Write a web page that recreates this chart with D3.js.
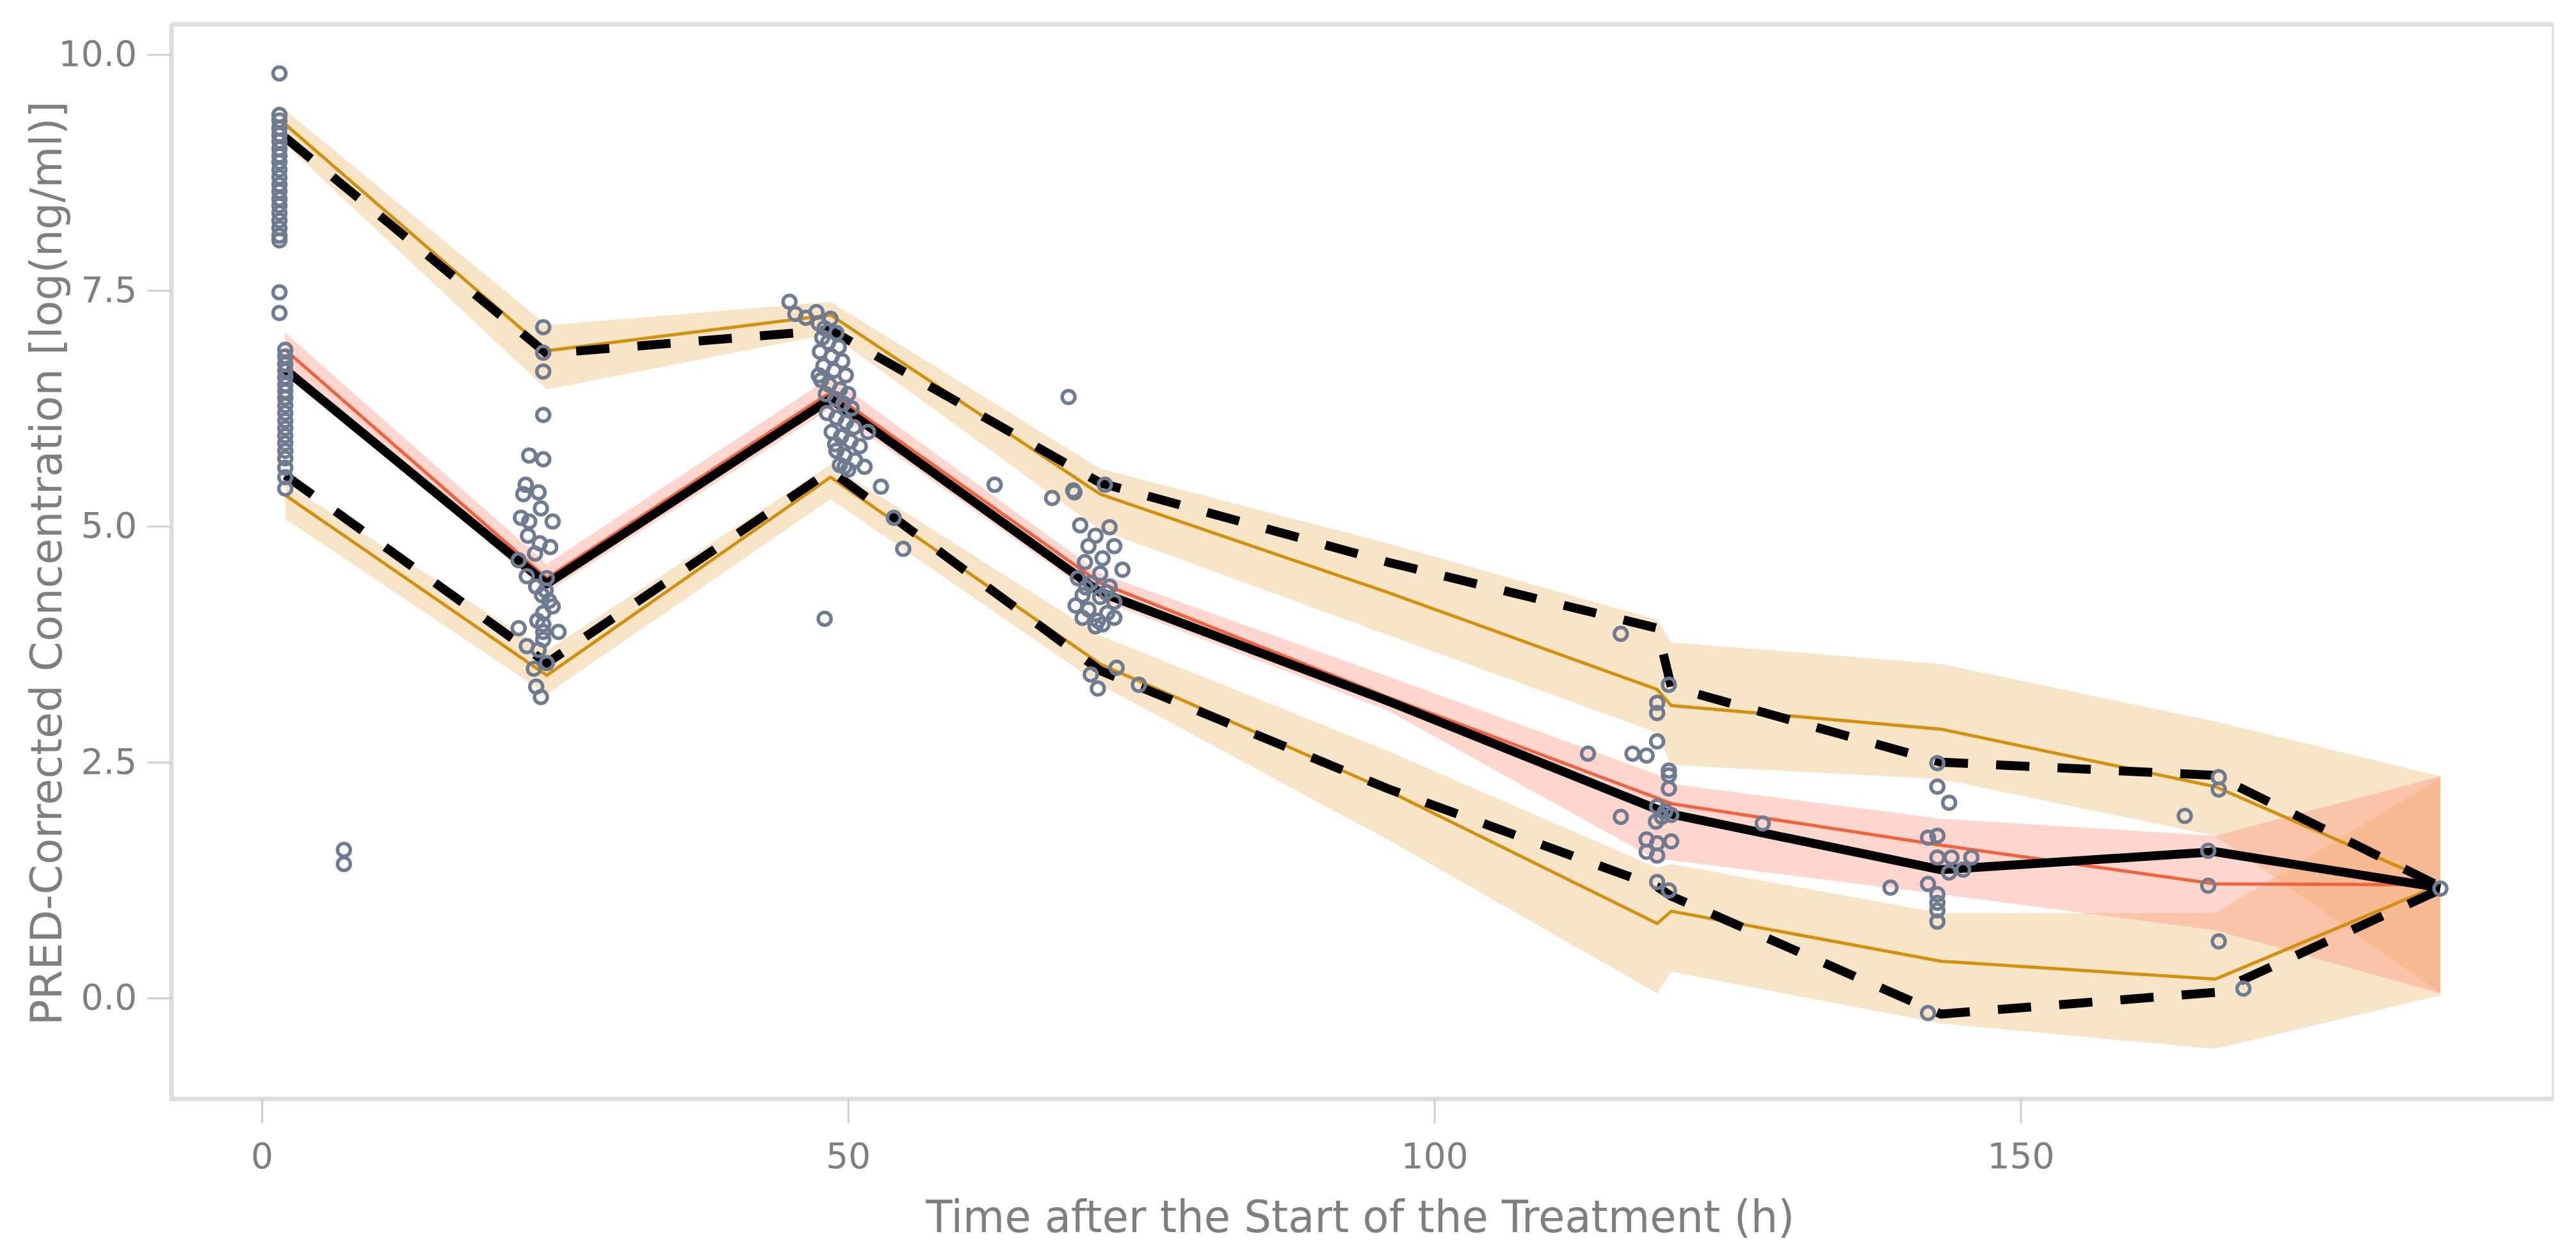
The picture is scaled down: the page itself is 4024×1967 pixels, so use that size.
<!DOCTYPE html>
<html>
<head>
<meta charset="utf-8">
<script src="https://cdn.jsdelivr.net/npm/d3@7"></script>
<style>
  body { margin: 0; background: #fff; }
  svg { display: block; font-family: "DejaVu Sans", Verdana, sans-serif; }
</style>
</head>
<body>
<svg id="chart" width="4024" height="1967"></svg>
<script>
// VPC bins (h)
const binTime = [2, 24.3, 48.5, 71.5, 96, 119, 120.2, 143.2, 166.6, 185.8]

// observed percentiles
const obsMedian = [6.66, 4.39, 6.35, 4.3, 3.15, 2.0, 1.95, 1.36, 1.55, 1.17]
const obsP95 = [9.12, 6.83, 7.08, 5.46, 4.62, 3.92, 3.3, 2.5, 2.36, 1.18]
const obsP05 = [5.54, 3.55, 5.59, 3.47, 2.22, 1.18, 1.08, -0.17, 0.06, 1.15]

// simulated percentiles with their confidence bands
const simP95 = [9.26, 6.86, 7.24, 5.34, 4.3, 3.27, 3.1, 2.85, 2.24, 1.2]
const simP95Hi = [9.41, 7.13, 7.38, 5.61, 4.82, 4.01, 3.77, 3.54, 2.93, 2.35]
const simP95Lo = [9.05, 6.45, 7.04, 4.96, 3.85, 2.81, 2.47, 2.32, 1.72, 0.05]

const simMedian = [6.87, 4.45, 6.42, 4.4, 3.19, 2.12, 2.06, 1.62, 1.21, 1.2]
const simMedHi = [7.05, 4.6, 6.58, 4.5, 3.41, 2.37, 2.27, 1.9, 1.72, 2.35]
const simMedLo = [6.7, 4.3, 6.25, 4.22, 3.05, 1.46, 1.46, 1.1, 0.72, 0.05]

const simP05 = [5.33, 3.42, 5.52, 3.54, 2.2, 0.79, 0.92, 0.39, 0.2, 1.2]
const simP05Hi = [5.45, 3.68, 5.65, 3.84, 2.62, 1.38, 1.42, 0.9, 0.9, 2.33]
const simP05Lo = [5.08, 3.22, 5.29, 3.32, 1.68, 0.05, 0.28, -0.27, -0.54, 0.03]

// observations
const obsTime = [
  1.5, 1.5, 1.5, 1.5, 1.5, 1.5, 1.5, 1.5, 1.5, 1.5, 1.5, 1.5, 1.5, 1.5, 1.5, 1.5, 1.5, 1.5, 1.5, 1.5, 1.5, 1.5,
  2, 2, 2, 2, 2, 2, 2, 2, 2, 2, 2, 2, 2, 2, 2, 2, 2, 2, 2,
  7, 7,
  24, 24, 24, 24, 22.8, 24, 22.5, 23.6, 22.3, 23.8, 22.1, 22.8, 24.8, 22.7, 23.7, 24.6, 23.3, 21.9, 22.6,
  23.4, 24.2, 23.9, 24.5, 24, 24, 24, 24, 21.9, 25.3, 22.6, 23.6, 24.3, 23.2, 23.4, 23.8, 24.3, 24.8, 23.5,
  45, 45.5, 46.4, 47.3,
  47.5, 48, 48.5, 49, 47.8, 48.3, 49.2, 47.6, 48.6, 49.5, 47.9, 48.8, 49.8, 47.7, 48.4, 49.3, 50, 47.5,
  48.1, 48.9, 49.6, 50.3, 48.2, 49, 49.8, 50.5, 48.6, 49.4, 50.2, 51, 49, 49.7, 50.6, 49.3, 50,
  52.8, 51.4, 53.9, 54.7, 48, 49.7, 48.9, 51.7, 62.5, 67.4, 68.8, 69.3, 69.8,
  69.2, 71.9, 72.3, 71.1, 72.7, 70.5, 71.7, 73.4, 70.2, 69.6, 70.7, 72.3, 70, 71.5, 72.7, 69.4, 70.5,
  72.1, 70, 71.3, 72.7, 71.1, 71.7, 72.9, 70.7, 71.3, 74.8, 71.5, 72, 70.3,
  115.9, 120, 119, 119, 119, 113.1, 116.9, 118.1, 120, 120, 120, 119, 119.7, 119.4, 120.2, 118.9, 115.9,
  118.1, 119, 120.2, 118.1, 119, 119, 120,
  128,
  142.9, 142.9, 143.9, 142.1, 142.9, 142.9, 144.1, 145.8, 143.9, 145.1, 138.9, 142.1, 142.9, 142.9, 142.9, 142.9, 142.1,
  164, 166.9, 166.9, 166, 166, 166.9, 169,
  185.8
]
const obsConc = [
  9.8, 9.36, 9.3, 9.22, 9.15, 9.08, 9.0, 8.93, 8.86, 8.78, 8.7, 8.62, 8.55, 8.47, 8.4, 8.32, 8.24, 8.16, 8.08, 8.03, 7.48, 7.26,
  6.87, 6.8, 6.72, 6.65, 6.58, 6.5, 6.43, 6.36, 6.28, 6.2, 6.12, 6.04, 5.96, 5.88, 5.8, 5.72, 5.62, 5.52, 5.4,
  1.57, 1.42,
  7.11, 6.84, 6.64, 6.18, 5.75, 5.71, 5.44, 5.36, 5.34, 5.19, 5.09, 5.05, 5.05, 4.9, 4.82, 4.78, 4.71, 4.64, 4.47,
  4.36, 4.32, 4.27, 4.21, 4.08, 3.96, 3.88, 3.8, 3.92, 3.88, 3.73, 3.69, 3.55, 3.49, 3.3, 3.19, 4.45, 4.15, 4.0,
  7.38, 7.25, 7.21, 7.27,
  7.15, 7.1, 7.2, 7.05, 7.0, 6.95, 6.9, 6.85, 6.8, 6.75, 6.7, 6.65, 6.6, 6.55, 6.5, 6.45, 6.4, 6.6,
  6.4, 6.35, 6.3, 6.25, 6.2, 6.15, 6.1, 6.05, 6.0, 5.95, 5.9, 5.85, 5.8, 5.75, 5.7, 5.65, 5.6,
  5.42, 5.63, 5.09, 4.76, 4.02, 5.63, 5.87, 6.0, 5.44, 5.3, 6.37, 5.36, 5.01,
  5.38, 5.44, 4.99, 4.9, 4.79, 4.79, 4.66, 4.54, 4.62, 4.45, 4.4, 4.36, 4.27, 4.25, 4.2, 4.16, 4.12,
  4.08, 4.03, 4.0, 4.03, 3.94, 3.96, 3.5, 3.43, 3.28, 3.32, 4.5, 4.3, 4.35,
  3.86, 3.32, 3.13, 3.02, 2.72, 2.59, 2.59, 2.57, 2.41, 2.36, 2.22, 2.03, 1.98, 1.92, 1.94, 1.87, 1.92,
  1.68, 1.64, 1.66, 1.55, 1.51, 1.23, 1.14,
  1.85,
  2.49, 2.24, 2.07, 1.7, 1.72, 1.49, 1.49, 1.49, 1.33, 1.36, 1.17, 1.21, 1.1, 1.01, 0.93, 0.81, -0.16,
  1.93, 2.34, 2.21, 1.56, 1.19, 0.6, 0.1,
  1.16
]

const xTicks = [0, 50, 100, 150]
const yTicks = [0, 2.5, 5, 7.5, 10]

const plotLeft = 268, plotRight = 3988, plotTop = 38, plotBottom = 1717

const svg = d3.select("#chart")

const x = d3.scaleLinear().domain([-7.7, 195.4]).range([plotLeft, plotRight])
const y = d3.scaleLinear().domain([-1.07, 10.32]).range([plotBottom, plotTop])

svg.append("defs").append("clipPath").attr("id", "plot")
  .append("rect")
  .attr("x", plotLeft).attr("y", plotTop)
  .attr("width", plotRight - plotLeft).attr("height", plotBottom - plotTop)

// frame
svg.append("rect")
  .attr("x", plotLeft).attr("y", plotTop)
  .attr("width", plotRight - plotLeft).attr("height", plotBottom - plotTop)
  .attr("fill", "none")
  .attr("stroke", "#e4e4e4")
  .attr("stroke-width", 4)
svg.append("path")
  .attr("d", `M${plotLeft},${plotTop}H${plotRight}M${plotLeft},${plotTop}V${plotBottom}H${plotRight}`)
  .attr("fill", "none")
  .attr("stroke", "#dedede")
  .attr("stroke-width", 7)

const plot = svg.append("g").attr("clip-path", "url(#plot)")

const band = (lo, hi) => d3.area()
  .x((d, i) => x(binTime[i]))
  .y0((d, i) => y(lo[i]))
  .y1((d, i) => y(hi[i]))(binTime)

const line = vals => d3.line()
  .x((d, i) => x(binTime[i]))
  .y((d, i) => y(vals[i]))(binTime)

// confidence bands
plot.append("path").attr("d", band(simP95Lo, simP95Hi))
  .attr("fill", "#efbf78").attr("fill-opacity", 0.42)
plot.append("path").attr("d", band(simP05Lo, simP05Hi))
  .attr("fill", "#efbf78").attr("fill-opacity", 0.42)
plot.append("path").attr("d", band(simMedLo, simMedHi))
  .attr("fill", "#fb8a72").attr("fill-opacity", 0.35)

// simulated lines
plot.append("path").attr("d", line(simP95))
  .attr("fill", "none").attr("stroke", "#d4900b").attr("stroke-width", 5)
plot.append("path").attr("d", line(simP05))
  .attr("fill", "none").attr("stroke", "#d4900b").attr("stroke-width", 5)
plot.append("path").attr("d", line(simMedian))
  .attr("fill", "none").attr("stroke", "#f2603c").attr("stroke-width", 5)

// observed lines
plot.selectAll(".dash")
  .data([obsP95, obsP05])
  .enter()
  .append("path")
  .attr("d", d => line(d))
  .attr("fill", "none")
  .attr("stroke", "#000")
  .attr("stroke-width", 14)
  .attr("stroke-dasharray", "52,44")
plot.append("path").attr("d", line(obsMedian))
  .attr("fill", "none").attr("stroke", "#000").attr("stroke-width", 14)
  .attr("stroke-linejoin", "round")

// observations
plot.selectAll("circle")
  .data(obsTime)
  .enter()
  .append("circle")
  .attr("cx", d => x(d))
  .attr("cy", (d, i) => y(obsConc[i]))
  .attr("r", 10)
  .attr("fill", "none")
  .attr("stroke", "#6e7b91")
  .attr("stroke-width", 5.5)

// axes
const xAxis = svg.append("g")
  .attr("transform", `translate(0,${plotBottom})`)
  .call(d3.axisBottom(x).tickValues(xTicks).tickSize(38).tickPadding(31))
const yAxis = svg.append("g")
  .attr("transform", `translate(${plotLeft},0)`)
  .call(d3.axisLeft(y).tickValues(yTicks).tickFormat(d3.format(".1f")).tickSize(38).tickPadding(16))

for (const g of [xAxis, yAxis]) {
  g.select(".domain").remove()
  g.selectAll(".tick line").attr("stroke", "#cfcfcf").attr("stroke-width", 3)
  g.selectAll(".tick text")
    .attr("fill", "#7f7f7f")
    .attr("font-size", 55)
    .attr("font-family", "DejaVu Sans, Verdana, sans-serif")
}

// titles
svg.append("text")
  .attr("x", 2125).attr("y", 1925)
  .attr("text-anchor", "middle")
  .attr("fill", "#7f7f7f")
  .attr("font-size", 70)
  .attr("textLength", 1357)
  .attr("lengthAdjust", "spacingAndGlyphs")
  .text("Time after the Start of the Treatment (h)")

svg.append("text")
  .attr("transform", "translate(96,880) rotate(-90)")
  .attr("text-anchor", "middle")
  .attr("fill", "#7f7f7f")
  .attr("font-size", 68)
  .attr("textLength", 1444)
  .attr("lengthAdjust", "spacingAndGlyphs")
  .text("PRED-Corrected Concentration [log(ng/ml)]")
</script>
</body>
</html>
